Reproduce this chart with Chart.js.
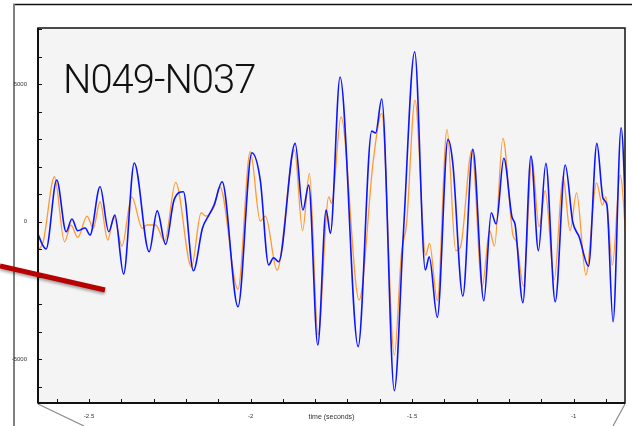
<!DOCTYPE html>
<html>
<head>
<meta charset="utf-8">
<script src="https://cdn.jsdelivr.net/npm/chart.js@4/dist/chart.umd.min.js"></script>
<style>
  html, body { margin: 0; padding: 0; background: #fff; }
  #wrap { position: relative; width: 632px; height: 426px; overflow: hidden; }
  #title {
    position: absolute; left: 63px; top: 60px;
    font-family: Roboto, "Open Sans", sans-serif; font-weight: 300;
    font-size: 40px; line-height: 40px; letter-spacing: -1px; color: #111;
    white-space: nowrap;
  }
</style>
</head>
<body>
<div id="wrap">
  <canvas id="chart"></canvas>
  <div id="title">N049-N037</div>
</div>
<script>
// time (s) / amplitude, at turning points of each trace
const blueTime = [
  -2.665, -2.633, -2.600, -2.571, -2.553, -2.535, -2.512, -2.497, -2.466, -2.439,
  -2.420, -2.393, -2.360, -2.314, -2.289, -2.263, -2.237, -2.208, -2.177, -2.149,
  -2.129, -2.113, -2.088, -2.039, -1.996, -1.970, -1.944, -1.929, -1.913, -1.862,
  -1.838, -1.820, -1.792, -1.766, -1.753, -1.723, -1.667, -1.625, -1.613, -1.594,
  -1.555, -1.527, -1.492, -1.459, -1.447, -1.422, -1.389, -1.374, -1.343, -1.312,
  -1.278, -1.255, -1.240, -1.216, -1.191, -1.181, -1.157, -1.132, -1.109, -1.086,
  -1.057, -1.026, -1.003, -0.983, -0.954, -0.928, -0.909, -0.897, -0.878, -0.853,
  -0.832
];
const blueAmp = [
  -270, -1000, 1510, -370, 90, -335, -235, -490, 1265, -370,
  235, -1910, 2130, -1100, 390, -830, 780, 1085, -1790, -245,
  235, 600, 1445, -3100, 2500, 1510, -1580, -1315, -1460, 2845,
  420, 1325, -4490, 420, -430, 5255, -4550, 3290, 3220, 4455,
  -6150, -430, 6175, -1765, -1280, -3485, 2990, 2115, -2710, 2625,
  -2880, 320, -90, 2300, 175, -125, -2950, 2380, -1060, 2115,
  -2915, 2055, -5, -555, -1620, 2845, 845, 600, -3645, 3410,
  -2130
];
const orangeTime = [
  -2.665, -2.642, -2.607, -2.576, -2.556, -2.535, -2.506, -2.487, -2.466, -2.442,
  -2.423, -2.398, -2.368, -2.335, -2.321, -2.294, -2.266, -2.232, -2.183, -2.153,
  -2.139, -2.113, -2.095, -2.039, -2.001, -1.970, -1.954, -1.918, -1.864, -1.839,
  -1.818, -1.791, -1.758, -1.749, -1.720, -1.664, -1.620, -1.594, -1.555, -1.533,
  -1.517, -1.491, -1.458, -1.446, -1.422, -1.392, -1.365, -1.350, -1.315, -1.283,
  -1.260, -1.245, -1.219, -1.188, -1.177, -1.155, -1.129, -1.107, -1.088, -1.060,
  -1.033, -1.011, -0.991, -0.962, -0.929, -0.911, -0.900, -0.880, -0.856, -0.832
];
const orangeAmp = [
  -1100, -735, 1630, -735, -125, -575, 200, -245, 720, -675,
  175, -890, 900, -245, -125, -125, -710, 1425, -1645, 320,
  200, 540, 1265, -2465, 2540, 20, 200, -1765, 2600, -335,
  1755, -4125, 900, 660, 3810, -2855, 2235, 3935, -4855, -1155,
  -65, 4420, -1220, -795, -2880, 3350, -1060, -915, 2600, -2370,
  -335, -890, 3025, -490, -735, -2345, 2260, -190, 1120, -2125,
  1630, -335, 1045, -1945, 1410, 600, 900, -1580, 1690, -1765
];
const xLabelValues = [-2.5, -2, -1.5, -1];
const yLabelValues = [-5000, 0, 5000];
const xRange = [-2.658, -0.841];
const yRange = [-6600, 7040];
const xMinorStep = 0.1;
const yMinorStep = 1000;

const toPoints = (ts, vs) => ts.map((t, i) => ({ x: t, y: vs[i] }));

// minor tick values inside a range (tick marks only, not data)
const stepTicks = (range, step) => {
  const out = [];
  for (let k = Math.ceil(range[0] / step - 1e-9); k * step <= range[1] + 1e-9; k++) {
    out.push({ value: Math.round(k * step * 1e6) / 1e6 });
  }
  return out;
};

const frame = {
  id: 'frame',
  beforeDraw(chart) {
    const { ctx, chartArea: a } = chart;
    ctx.save();
    ctx.fillStyle = '#f4f4f4';
    ctx.fillRect(a.left, a.top, a.right - a.left, a.bottom - a.top);
    // slide edges around the plot
    ctx.strokeStyle = '#111';
    ctx.lineWidth = 1.5;
    ctx.beginPath(); ctx.moveTo(13, 4.5); ctx.lineTo(632, 4.5); ctx.stroke();
    ctx.strokeStyle = '#808080';
    ctx.lineWidth = 2;
    ctx.beginPath(); ctx.moveTo(14, 4); ctx.lineTo(14, 426); ctx.stroke();
    ctx.lineWidth = 1.2;
    ctx.strokeStyle = '#8a8a8a';
    ctx.beginPath(); ctx.moveTo(a.left, a.bottom + 1); ctx.lineTo(84, 426); ctx.stroke();
    ctx.beginPath(); ctx.moveTo(a.right, a.bottom + 1); ctx.lineTo(613, 426); ctx.stroke();
    ctx.restore();
  },
  afterDraw(chart) {
    const { ctx, chartArea: a, scales } = chart;
    ctx.save();
    ctx.strokeStyle = '#111';
    ctx.lineWidth = 1;
    scales.x.ticks.forEach(t => {
      const px = Math.round(scales.x.getPixelForValue(t.value)) + 0.5;
      ctx.beginPath(); ctx.moveTo(px, a.bottom); ctx.lineTo(px, a.bottom - 4); ctx.stroke();
    });
    scales.y.ticks.forEach(t => {
      const py = Math.round(scales.y.getPixelForValue(t.value)) + 0.5;
      ctx.beginPath(); ctx.moveTo(a.left, py); ctx.lineTo(a.left + 4, py); ctx.stroke();
    });
    ctx.lineWidth = 1.5;
    ctx.strokeRect(a.left, a.top, a.right - a.left, a.bottom - a.top);
    ctx.lineWidth = 2;
    ctx.beginPath(); ctx.moveTo(a.left, a.bottom); ctx.lineTo(a.right, a.bottom); ctx.stroke();
    ctx.beginPath(); ctx.moveTo(a.left, a.top); ctx.lineTo(a.left, a.bottom); ctx.stroke();
    // red pointer drawn over the slide
    ctx.strokeStyle = '#b80000';
    ctx.lineWidth = 5;
    ctx.shadowColor = 'rgba(0,0,0,0.35)';
    ctx.shadowBlur = 3;
    ctx.shadowOffsetY = 2;
    ctx.beginPath(); ctx.moveTo(0, 266); ctx.lineTo(105, 290); ctx.stroke();
    ctx.restore();
  }
};

const isLabel = (v, list) => list.some(l => Math.abs(l - v) < 1e-6);

new Chart(document.getElementById('chart'), {
  type: 'line',
  data: {
    datasets: [
      {
        label: 'N049',
        data: toPoints(blueTime, blueAmp),
        borderColor: '#0a14ff',
        borderWidth: 1.6,
        pointRadius: 0,
        cubicInterpolationMode: 'monotone'
      },
      {
        label: 'N037',
        data: toPoints(orangeTime, orangeAmp),
        borderColor: '#ff9933',
        borderWidth: 1.3,
        pointRadius: 0,
        cubicInterpolationMode: 'monotone'
      }
    ]
  },
  options: {
    responsive: true,
    maintainAspectRatio: false,
    animation: false,
    layout: { padding: { top: 28, right: 7, left: 0, bottom: 0 } },
    plugins: { legend: { display: false }, tooltip: { enabled: false } },
    scales: {
      x: {
        type: 'linear',
        min: xRange[0],
        max: xRange[1],
        grid: { display: false },
        border: { display: false },
        afterBuildTicks: s => { s.ticks = stepTicks(xRange, xMinorStep); },
        ticks: {
          autoSkip: false,
          maxRotation: 0,
          padding: 2,
          color: '#333',
          font: { family: 'Liberation Sans', size: 6 },
          callback: v => isLabel(v, xLabelValues) ? String(v) : ''
        },
        title: {
          display: true,
          text: 'time (seconds)',
          color: '#333',
          font: { family: 'Liberation Sans', size: 7 },
          padding: { top: 0, bottom: 5 }
        },
        afterFit: s => { s.height = 23; }
      },
      y: {
        type: 'linear',
        min: yRange[0],
        max: yRange[1],
        grid: { display: false },
        border: { display: false },
        afterBuildTicks: s => { s.ticks = stepTicks(yRange, yMinorStep); },
        ticks: {
          autoSkip: false,
          padding: 3,
          color: '#333',
          font: { family: 'Liberation Sans', size: 6 },
          callback: v => isLabel(v, yLabelValues) ? String(v) : ''
        },
        afterFit: s => { s.width = 38; }
      }
    }
  },
  plugins: [frame]
});
</script>
</body>
</html>
